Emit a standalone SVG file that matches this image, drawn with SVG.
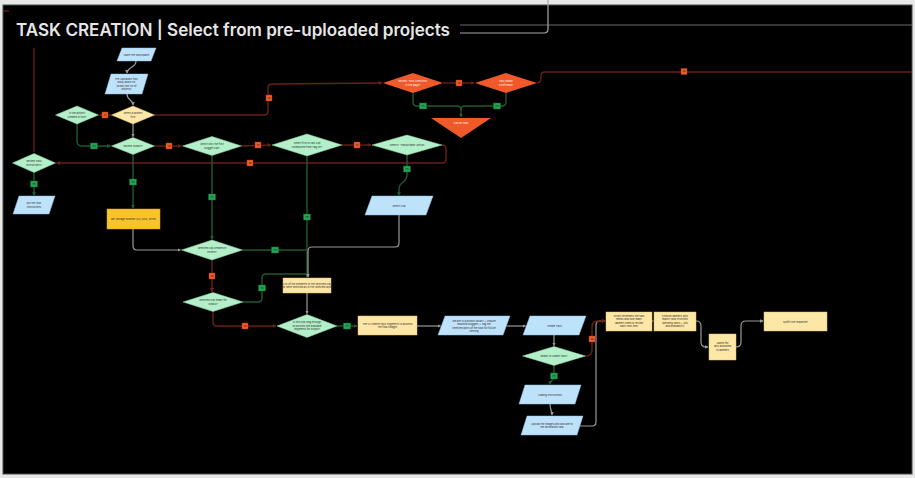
<svg xmlns="http://www.w3.org/2000/svg" width="915" height="478" viewBox="0 0 915 478">
<defs>
<style>
.t{font-family:Inter,"Liberation Sans",sans-serif;font-size:2.6px;fill:#2b2b2b;text-anchor:middle}
.tw{font-family:Inter,"Liberation Sans",sans-serif;font-size:2.6px;fill:#fff3ee;text-anchor:middle}
.gn{fill:#b3f0c9;stroke:#8fd6a9;stroke-width:0.5}
.bl{fill:#bfe2fb;stroke:#8fc3e6;stroke-width:0.5}
.yl{fill:#fde7a7;stroke:#e2c47a;stroke-width:0.5}
.am{fill:#f7c42c;stroke:#d9a615;stroke-width:0.5}
.rd{fill:#f0592a}
.cg{fill:none;stroke:#9a9a9a;stroke-width:1.2}
.cn{fill:none;stroke:#1f5a31;stroke-width:1.4}
.cr{fill:none;stroke:#6a1f12;stroke-width:1.4}
.ly{fill:#22a656;stroke:#0f6b33;stroke-width:0.4}
.ln{fill:#f05a28;stroke:#b83a14;stroke-width:0.4}
.lt{font-family:Inter,"Liberation Sans",sans-serif;font-size:2px;fill:#0d2a16;text-anchor:middle}
</style>
<marker id="ag" viewBox="0 0 6 6" refX="5" refY="3" markerWidth="3" markerHeight="3" orient="auto"><path d="M0,0 L6,3 L0,6 z" fill="#9a9a9a"/></marker>
<marker id="an" viewBox="0 0 6 6" refX="5" refY="3" markerWidth="3" markerHeight="3" orient="auto"><path d="M0,0 L6,3 L0,6 z" fill="#1f5a31"/></marker>
<marker id="ar" viewBox="0 0 6 6" refX="5" refY="3" markerWidth="3" markerHeight="3" orient="auto"><path d="M0,0 L6,3 L0,6 z" fill="#6a1f12"/></marker>
</defs>
<rect x="0" y="0" width="915" height="478" fill="#e8e8e8"/>
<rect x="3" y="5" width="909" height="469" fill="#000" stroke="#4a4a4a" stroke-width="1"/>
<path d="M3,11 L9,11" stroke="#8a2a14" stroke-width="1"/>
<text x="16" y="36" font-family="Inter,'Liberation Sans',sans-serif" font-size="17.2" font-weight="600" fill="#e6e6e6" textLength="434" lengthAdjust="spacingAndGlyphs">TASK CREATION | Select from pre-uploaded projects</text>
<path d="M460,25 L912,25" stroke="#6a6a6a" stroke-width="1.2" fill="none"/>
<path d="M460,33 L544,33 Q548,33 548,29 L548,0" stroke="#a8a8a8" stroke-width="1.2" fill="none"/>

<g id="connectors">
<path class="cr" d="M34,48 L34,152"/>
<path class="cg" d="M136,61 C136,68 127,67 127,73" marker-end="url(#ag)"/>
<path class="cg" d="M127,94 C127,101 133,99 133,105" marker-end="url(#ag)"/>
<path class="cg" d="M133,124 L133,136.5" marker-end="url(#ag)"/>
<path class="cr" d="M111.5,115 L99.5,115" marker-end="url(#ar)"/>
<path class="cr" d="M154.5,115 L264,115 Q268,115 268,111 L268,88 Q268,84 272,84 L382,83" marker-end="url(#ar)"/>
<path class="cn" d="M77,124 L77,141 Q77,146 82,146 L110.5,146" marker-end="url(#an)"/>
<path class="cr" d="M154.5,146 L181.5,146" marker-end="url(#ar)"/>
<path class="cr" d="M241.5,146 L271,145" marker-end="url(#ar)"/>
<path class="cr" d="M342,145 L371,145" marker-end="url(#ar)"/>
<path class="cr" d="M442,145 Q446,145 446,149 L446,159 Q446,163 442,163 L56.5,163" marker-end="url(#ar)"/>
<path class="cn" d="M34,172.5 L34,195" marker-end="url(#an)"/>
<path class="cn" d="M133,154.5 L133,208" marker-end="url(#an)"/>
<path class="cg" d="M133,229 L133,246 Q133,250 137,250 L180.5,250" marker-end="url(#ag)"/>
<path class="cn" d="M212,155.5 L212,239" marker-end="url(#an)"/>
<path class="cn" d="M307,156 L307,277" marker-end="url(#an)"/>
<path class="cn" d="M407,155 L407,175 C407,183 399,181 399,189 L399,195" marker-end="url(#an)"/>
<path class="cg" d="M399,215 L399,243 Q399,247 395,247 L312,247 Q308,247 308,251 L308,277" marker-end="url(#ag)"/>
<path class="cn" d="M242.5,250 L306,250"/>
<path class="cr" d="M212,260 L212,291.5" marker-end="url(#ar)"/>
<path class="cn" d="M243,302 L258,302 Q262,302 262,298 L262,278 Q262,274 266,274 L306,274"/>
<path class="cr" d="M213,311.5 L213,322 Q213,326 217,326 L276,326" marker-end="url(#ar)"/>
<path class="cg" d="M307,293 L307,313.5" marker-end="url(#ag)"/>
<path class="cn" d="M337,326 L357,326" marker-end="url(#an)"/>
<path class="cg" d="M417,326 L440.5,326" marker-end="url(#ag)"/>
<path class="cg" d="M506.5,326 L525.5,326" marker-end="url(#ag)"/>
<path class="cg" d="M554,335 L554,345.5" marker-end="url(#ag)"/>
<path class="cn" d="M554,365.5 L554,376 C554,381 550,380 550,384" marker-end="url(#an)"/>
<path class="cg" d="M550,404 C550,410 552,410 552,415" marker-end="url(#ag)"/>
<path class="cg" d="M580,426 L592,426 Q596,426 596,422 L596,325 Q596,321 600,321 L605,321" marker-end="url(#ag)"/>
<path class="cr" d="M585.5,356 Q592,356 592,350 L592,327 Q592,321 598,321 L605,321" marker-end="url(#ar)"/>
<path class="cg" d="M652,321 L653.5,321"/>
<path class="cg" d="M696,321 Q701,321 701,326 L701,342 Q701,347 706,347 L708,347" marker-end="url(#ag)"/>
<path class="cg" d="M736,347 Q741,347 741,342 L741,326 Q741,321 746,321 L763,321" marker-end="url(#ag)"/>
<path class="cr" d="M443,83 L474,83" marker-end="url(#ar)"/>
<path class="cr" d="M537,83 Q541,83 541,78 L541,76 Q541,72 545,72 L912,72"/>
<path class="cn" d="M413,93 L413,102 Q413,106 417,106 L457,106 Q461,106 461,110 L461,117" marker-end="url(#an)"/>
<path class="cn" d="M506,93 L506,102 Q506,106 502,106 L465,106 Q461,106 461,110"/>
<rect class="ln" x="102" y="112" width="6" height="6"/><text class="lt" x="105" y="115.8">No</text>
<rect class="ln" x="266" y="95" width="6" height="6"/><text class="lt" x="269" y="98.8">No</text>
<rect class="ly" x="90.5" y="143" width="7" height="6"/><text class="lt" x="94" y="146.8">Yes</text>
<rect class="ln" x="166" y="143" width="6" height="6"/><text class="lt" x="169" y="146.8">No</text>
<rect class="ln" x="255" y="142" width="6" height="6"/><text class="lt" x="258" y="145.8">No</text>
<rect class="ln" x="354" y="142" width="6" height="6"/><text class="lt" x="357" y="145.8">No</text>
<rect class="ln" x="247" y="160" width="6" height="6"/><text class="lt" x="250" y="163.8">No</text>
<rect class="ly" x="30.5" y="181" width="7" height="6"/><text class="lt" x="34" y="184.8">Yes</text>
<rect class="ly" x="129.5" y="179" width="7" height="6"/><text class="lt" x="133" y="182.8">Yes</text>
<rect class="ly" x="208.5" y="194" width="7" height="6"/><text class="lt" x="212" y="197.8">Yes</text>
<rect class="ly" x="303.5" y="214" width="7" height="6"/><text class="lt" x="307" y="217.8">Yes</text>
<rect class="ly" x="403.5" y="166" width="7" height="6"/><text class="lt" x="407" y="169.8">Yes</text>
<rect class="ly" x="271.5" y="247" width="7" height="6"/><text class="lt" x="275" y="250.8">Yes</text>
<rect class="ln" x="209" y="273" width="6" height="6"/><text class="lt" x="212" y="276.8">No</text>
<rect class="ly" x="258.5" y="285" width="7" height="6"/><text class="lt" x="262" y="288.8">Yes</text>
<rect class="ln" x="242" y="323" width="6" height="6"/><text class="lt" x="245" y="326.8">No</text>
<rect class="ly" x="343.5" y="323" width="7" height="6"/><text class="lt" x="347" y="326.8">Yes</text>
<rect class="ln" x="589" y="336" width="6" height="6"/><text class="lt" x="592" y="339.8">No</text>
<rect class="ly" x="550.5" y="373" width="7" height="6"/><text class="lt" x="554" y="376.8">Yes</text>
<rect class="ln" x="456" y="80" width="6" height="6"/><text class="lt" x="459" y="83.8">No</text>
<rect class="ln" x="681" y="68.5" width="6" height="6"/><text class="lt" x="684" y="72.3">No</text>
<rect class="ly" x="419.5" y="103" width="7" height="6"/><text class="lt" x="423" y="106.8">Yes</text>
<rect class="ly" x="493.5" y="103" width="7" height="6"/><text class="lt" x="497" y="106.8">Yes</text>
</g>

<g id="n1"><polygon class="bl" points="122,48 156,48 151,61 117,61"/><text class="t" x="136.5" y="55.5">Open the workspace</text></g>
<g id="n2"><polygon class="bl" points="111,74 148,74 142,94 105,94"/><text class="t" x="126.5" y="79.5">Pre-uploaded files</text><text class="t" x="126.5" y="83">drop-down list</text><text class="t" x="126.5" y="86.5">shows the list of</text><text class="t" x="126.5" y="90">projects</text></g>
<g id="n3"><polygon class="yl" points="111.5,115 133,106 154.5,115 133,124"/><text class="t" x="133" y="114">Select a project</text><text class="t" x="133" y="117.5">first</text></g>
<g id="n4"><polygon class="gn" points="55.5,115 77,106 98.5,115 77,124"/><text class="t" x="77" y="114">Is the project</text><text class="t" x="77" y="117.5">created in tool?</text></g>
<g id="n5"><polygon class="gn" points="111.5,146 133,137.5 154.5,146 133,154.5"/><text class="t" x="133" y="147">Review Output?</text></g>
<g id="n6"><polygon class="gn" points="182.5,146 212,136.5 241.5,146 212,155.5"/><text class="t" x="212" y="145">Select only the first</text><text class="t" x="212" y="148.5">Nugget clip?</text></g>
<g id="n7"><polygon class="gn" points="272,145 307,134 342,145 307,156"/><text class="t" x="307" y="144">Select first or last clip</text><text class="t" x="307" y="147.5">Composed from Tag list?</text></g>
<g id="n8"><polygon class="gn" points="372,145 407,135 442,145 407,155"/><text class="t" x="407" y="146">Selects 'Transcribed' button</text></g>
<g id="n9"><polygon class="gn" points="12.5,163 34,153.5 55.5,163 34,172.5"/><text class="t" x="34" y="162">Review Task</text><text class="t" x="34" y="165.5">Instructions?</text></g>
<g id="n10"><polygon class="bl" points="19,196 55,196 49,214 13,214"/><text class="t" x="34" y="204">put the task</text><text class="t" x="34" y="207.5">instructions</text></g>
<g id="n11"><rect class="am" x="107" y="209" width="53" height="20"/><text class="t" x="133.5" y="220">Set storage location (S3, GCS, Drive)</text></g>
<g id="n12"><polygon class="gn" points="181.5,250 212,240 242.5,250 212,260"/><text class="t" x="212" y="249">Selected clip created in</text><text class="t" x="212" y="252.5">review?</text></g>
<g id="n13"><polygon class="gn" points="183,302 213,292.5 243,302 213,311.5"/><text class="t" x="213" y="301">Selected clip ready for</text><text class="t" x="213" y="304.5">output?</text></g>
<g id="n14"><polygon class="gn" points="277,326 307,314.5 337,326 307,337.5"/><text class="t" x="307" y="323">Is this clip long enough</text><text class="t" x="307" y="326.5">to process the available</text><text class="t" x="307" y="330">segments for output?</text></g>
<g id="n15"><rect class="yl" x="283" y="278" width="48" height="15"/><text class="t" x="307" y="284.5">List of the elements in the selected clip</text><text class="t" x="307" y="288">that were selected as in the selected layout</text></g>
<g id="n16"><rect class="yl" x="358" y="316" width="59" height="19"/><text class="t" x="387.5" y="324.5">The AI creates task segments to process</text><text class="t" x="387.5" y="328">the final images</text></g>
<g id="n17"><polygon class="bl" points="445,316 510,316 503,335 438,335"/><text class="t" x="474" y="321.5">We are in a project library + choose</text><text class="t" x="474" y="325">required Nuggets + Tag the</text><text class="t" x="474" y="328.5">selected parts of the task for future</text><text class="t" x="474" y="332">viewing</text></g>
<g id="n18"><polygon class="bl" points="530,316 586,316 579,335 523,335"/><text class="t" x="554.5" y="326.5">Create Task</text></g>
<g id="n19"><polygon class="gn" points="522.5,356 554,346.5 585.5,356 554,365.5"/><text class="t" x="554" y="357">Ready to submit task?</text></g>
<g id="n20"><polygon class="bl" points="525,385 581,385 575,404 519,404"/><text class="t" x="550" y="395.5">Adding instructions</text></g>
<g id="n21"><polygon class="bl" points="527,416 583,416 577,435 521,435"/><text class="t" x="552" y="424.5">Upload the images and allocate to</text><text class="t" x="552" y="428">the annotation task</text></g>
<g id="n22"><rect class="yl" x="606" y="312" width="46" height="19"/><text class="t" x="629" y="316.5">Which reviewers the task</text><text class="t" x="629" y="320">needs and how many</text><text class="t" x="629" y="323.5">labelers need to review</text><text class="t" x="629" y="327">each task item</text></g>
<g id="n23"><rect class="yl" x="654" y="312" width="42" height="19"/><text class="t" x="675" y="316.5">Choose labelers who</text><text class="t" x="675" y="320">match Task Priorities</text><text class="t" x="675" y="323.5">(pending tasks + skill</text><text class="t" x="675" y="327">and availability)</text></g>
<g id="n24"><rect class="yl" x="709" y="334" width="27" height="26"/><text class="t" x="722.5" y="343.5">Labels for</text><text class="t" x="722.5" y="347">task allocated</text><text class="t" x="722.5" y="350.5">to labelers</text></g>
<g id="n25"><rect class="yl" x="764" y="312" width="63" height="19"/><text class="t" x="795.5" y="322.5">Notify the requester</text></g>
<g id="n26"><polygon class="rd" points="383,83 413,73 443,83 413,93"/><text class="tw" x="413" y="82">Review 'Task Overview'</text><text class="tw" x="413" y="85.5">in the page?</text></g>
<g id="n27"><polygon class="rd" points="475,83 506,73 537,83 506,93"/><text class="tw" x="506" y="82">Task Ready</text><text class="tw" x="506" y="85.5">Confirmed?</text></g>
<g id="n28"><polygon class="rd" points="431,118 491,118 461,138"/><text class="tw" x="461" y="124">Cancel Task</text></g>
<g id="n29"><polygon class="bl" points="372,196 433,196 426,215 365,215"/><text class="t" x="399" y="206.5">Select Clip</text></g>
</svg>
